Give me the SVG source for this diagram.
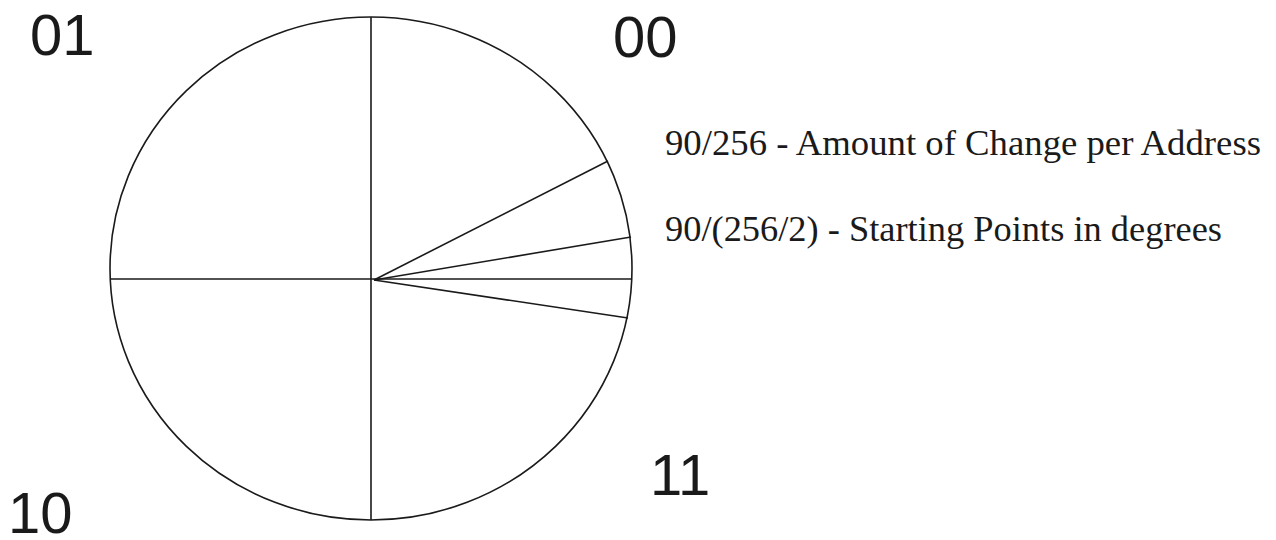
<svg xmlns="http://www.w3.org/2000/svg" width="1276" height="540" viewBox="0 0 1276 540">
<style>
.ln{stroke:#1a1a1a;stroke-width:1.6;fill:none}
.q{font-family:"Liberation Sans",Arial,sans-serif;font-size:58px;fill:#1a1a1a}
.t{font-family:"Liberation Serif","Times New Roman",serif;font-size:36px;fill:#1a1a1a}
</style>
<rect width="1276" height="540" fill="#fff"/>
<g id="circle">
<ellipse class="ln" cx="371" cy="268.5" rx="261" ry="251.5"/>
</g>
<g id="connectors">
<line class="ln" x1="371" y1="17" x2="371" y2="520"/>
<line class="ln" x1="110" y1="279" x2="632" y2="279"/>
<line class="ln" x1="374" y1="280" x2="608" y2="161"/>
<line class="ln" x1="374" y1="280" x2="631" y2="237"/>
<line class="ln" x1="374" y1="280" x2="628" y2="318"/>
</g>
<g id="labels">
<text class="q" x="30" y="55">01</text>
<text class="q" x="613" y="57">00</text>
<text class="q" x="650" y="495">11</text>
<text class="q" x="8" y="533">10</text>
</g>
<g id="notes">
<text class="t" x="665" y="155" textLength="596" lengthAdjust="spacingAndGlyphs">90/256 - Amount of Change per Address</text>
<text class="t" x="665" y="241" textLength="557" lengthAdjust="spacingAndGlyphs">90/(256/2) - Starting Points in degrees</text>
</g>
</svg>
